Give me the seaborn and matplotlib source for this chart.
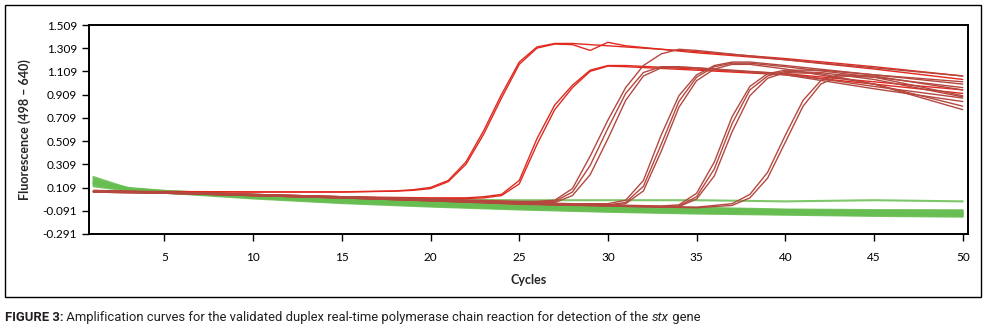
import numpy as np
import pandas as pd
import seaborn as sns
import matplotlib.pyplot as plt
from matplotlib.patches import Rectangle

# --- red amplification curves (cycle knots + fluorescence) ---
grp_a_cycles = [1, 5, 10, 15, 18, 19, 20, 21, 22, 23, 24, 25, 26, 27, 28, 29, 30, 31, 35, 40, 45, 50]
grp_a_runs = [
    [0.075, 0.075, 0.072, 0.072, 0.08, 0.09, 0.11, 0.17, 0.33, 0.6, 0.91, 1.19, 1.32, 1.35, 1.35, 1.34, 1.33, 1.32, 1.28, 1.22, 1.15, 1.07],
    [0.07, 0.072, 0.07, 0.07, 0.078, 0.085, 0.1, 0.16, 0.31, 0.57, 0.88, 1.17, 1.31, 1.345, 1.34, 1.29, 1.36, 1.33, 1.27, 1.21, 1.13, 1.04],
]

grp_b_cycles = [1, 5, 10, 15, 20, 22, 23, 24, 25, 26, 27, 28, 29, 30, 31, 35, 40, 45, 50]
grp_b_runs = [
    [0.08, 0.07, 0.05, 0.03, 0.02, 0.02, 0.03, 0.05, 0.17, 0.53, 0.82, 0.99, 1.12, 1.16, 1.16, 1.13, 1.09, 1.02, 0.95],
    [0.075, 0.068, 0.045, 0.025, 0.015, 0.015, 0.02, 0.04, 0.14, 0.48, 0.78, 0.97, 1.11, 1.155, 1.15, 1.12, 1.08, 1.0, 0.92],
]

grp_c_cycles = [1, 5, 10, 15, 20, 25, 26, 27, 28, 29, 30, 31, 32, 33, 34, 35, 40, 45, 50]
grp_c_runs = [
    [0.085, 0.07, 0.05, 0.03, 0.01, -0.01, -0.01, 0.0, 0.1, 0.38, 0.69, 0.97, 1.16, 1.26, 1.3, 1.29, 1.21, 1.14, 1.07],
    [0.08, 0.068, 0.045, 0.025, 0.005, -0.015, -0.015, -0.01, 0.07, 0.3, 0.62, 0.92, 1.1, 1.15, 1.15, 1.14, 1.09, 0.98, 0.88],
    [0.075, 0.065, 0.04, 0.02, 0.0, -0.02, -0.025, -0.02, 0.04, 0.22, 0.53, 0.86, 1.07, 1.14, 1.145, 1.14, 1.08, 0.96, 0.85],
]

grp_d_cycles = [1, 5, 10, 15, 20, 25, 28, 30, 31, 32, 33, 34, 35, 36, 37, 38, 40, 45, 50]
grp_d_runs = [
    [0.08, 0.07, 0.05, 0.03, 0.01, -0.02, -0.03, -0.03, 0.0, 0.17, 0.56, 0.9, 1.08, 1.16, 1.19, 1.19, 1.16, 1.08, 1.0],
    [0.075, 0.065, 0.045, 0.025, 0.0, -0.03, -0.04, -0.04, -0.02, 0.12, 0.48, 0.85, 1.06, 1.15, 1.18, 1.18, 1.15, 1.06, 0.97],
    [0.07, 0.06, 0.04, 0.02, -0.005, -0.035, -0.045, -0.045, -0.03, 0.08, 0.42, 0.8, 1.03, 1.13, 1.17, 1.17, 1.13, 1.0, 0.81],
]

grp_e_cycles = [1, 5, 10, 15, 20, 25, 30, 33, 34, 35, 36, 37, 38, 39, 40, 42, 45, 50]
grp_e_runs = [
    [0.08, 0.07, 0.05, 0.03, 0.005, -0.02, -0.04, -0.05, -0.04, 0.06, 0.33, 0.72, 0.98, 1.09, 1.12, 1.12, 1.08, 1.02],
    [0.075, 0.065, 0.045, 0.025, 0.0, -0.025, -0.045, -0.055, -0.05, 0.03, 0.27, 0.66, 0.95, 1.07, 1.11, 1.1, 1.04, 0.89],
    [0.07, 0.06, 0.04, 0.02, -0.005, -0.03, -0.05, -0.06, -0.055, 0.01, 0.21, 0.59, 0.9, 1.05, 1.1, 1.09, 1.0, 0.78],
]

grp_f_cycles = [1, 5, 10, 15, 20, 25, 30, 35, 37, 38, 39, 40, 41, 42, 43, 45, 50]
grp_f_runs = [
    [0.075, 0.065, 0.045, 0.025, 0.0, -0.025, -0.045, -0.06, -0.03, 0.05, 0.24, 0.56, 0.86, 1.03, 1.08, 1.07, 0.95],
    [0.07, 0.06, 0.04, 0.02, -0.005, -0.03, -0.05, -0.065, -0.045, 0.02, 0.19, 0.5, 0.81, 1.0, 1.07, 1.06, 0.9],
]

# --- green (internal control) curves ---
green_cycles = [1, 2, 3, 5, 10, 15, 20, 25, 30, 35, 40, 45, 50]
green_runs = [
    [0.2, 0.15, 0.1, 0.075, 0.035, 0.0, -0.03, -0.055, -0.075, -0.09, -0.1, -0.105, -0.11],
    [0.19, 0.14, 0.105, 0.08, 0.045, 0.015, -0.01, -0.03, -0.05, -0.065, -0.08, -0.085, -0.088],
    [0.18, 0.13, 0.1, 0.075, 0.03, -0.005, -0.035, -0.06, -0.08, -0.095, -0.105, -0.115, -0.12],
    [0.17, 0.13, 0.095, 0.07, 0.02, -0.02, -0.05, -0.075, -0.095, -0.11, -0.12, -0.13, -0.135],
    [0.16, 0.12, 0.095, 0.07, 0.035, 0.005, -0.02, -0.045, -0.065, -0.08, -0.09, -0.095, -0.1],
    [0.15, 0.12, 0.09, 0.065, 0.015, -0.025, -0.055, -0.08, -0.1, -0.115, -0.125, -0.135, -0.142],
    [0.14, 0.11, 0.09, 0.065, 0.03, -0.005, -0.03, -0.055, -0.07, -0.09, -0.1, -0.11, -0.115],
    [0.13, 0.11, 0.09, 0.07, 0.04, 0.01, -0.015, -0.035, -0.055, -0.07, -0.085, -0.09, -0.09],
    [0.12, 0.1, 0.085, 0.065, 0.025, -0.01, -0.04, -0.065, -0.085, -0.1, -0.11, -0.12, -0.125],
    [0.15, 0.12, 0.1, 0.08, 0.045, 0.02, 0.005, 0.0, 0.0, 0.0, -0.01, 0.0, -0.01],
]

y_ticks = [-0.291, -0.091, 0.109, 0.309, 0.509, 0.709, 0.909, 1.109, 1.309, 1.509]
x_ticks = [5, 10, 15, 20, 25, 30, 35, 40, 45, 50]

# long-form table for seaborn
rows = []
groups = [("green", green_cycles, green_runs),
          ("A", grp_a_cycles, grp_a_runs), ("B", grp_b_cycles, grp_b_runs),
          ("C", grp_c_cycles, grp_c_runs), ("D", grp_d_cycles, grp_d_runs),
          ("E", grp_e_cycles, grp_e_runs), ("F", grp_f_cycles, grp_f_runs)]
for name, cyc, runs in groups:
    for i, vals in enumerate(runs):
        for c, v in zip(cyc, vals):
            rows.append({"group": name, "run": f"{name}{i}", "cycle": c, "fluor": v})
df = pd.DataFrame(rows)

sns.set_style("white")
plt.rcParams["font.family"] = ["Lato", "DejaVu Sans"]

fig = plt.figure(figsize=(9.86, 3.33), dpi=100)
ax = fig.add_axes([0.0903, 0.2973, 0.8915, 0.6276])

# green controls first, then red targets
sns.lineplot(data=df[df.group == "green"], x="cycle", y="fluor", units="run",
             estimator=None, color="#66bd50", lw=1.5, alpha=0.85, ax=ax, legend=False)
palette = {"A": "#e02a20", "B": "#e02a20", "C": "#b4483f", "D": "#b4483f",
           "E": "#b4483f", "F": "#b4483f"}
sns.lineplot(data=df[df.group != "green"], x="cycle", y="fluor", units="run",
             estimator=None, hue="group", palette=palette, lw=1.0, ax=ax, legend=False)

ax.set_xlim(0.75, 50.3)
ax.set_ylim(-0.291, 1.509)
ax.set_xticks(x_ticks)
ax.set_yticks(y_ticks)
ax.set_yticklabels([f"{t:.3f}" for t in y_ticks])
ax.tick_params(axis="both", direction="out", length=5, width=1, labelsize=8.5,
               bottom=True, left=True, colors="black")
ax.tick_params(axis="x", pad=8)
for s in ax.spines.values():
    s.set_color("black")
    s.set_linewidth(1.4)

ax.set_xlabel("Cycles", fontsize=9, fontweight="bold", labelpad=8)
ax.set_ylabel("Fluorescence (498 \u2013 640)", fontsize=9, fontweight="bold", labelpad=8)

# outer frame around the figure panel
fig.patches.append(Rectangle((0.005, 0.108), 0.99, 0.877, transform=fig.transFigure,
                             fill=False, edgecolor="black", lw=1.0))

# caption with mixed weights
cap_font = ["Roboto", "DejaVu Sans"]
renderer = fig.canvas.get_renderer()
x0 = 0.005
y0 = 0.035
pieces = [("FIGURE 3:", "bold", "normal"),
          (" Amplification curves for the validated duplex real-time polymerase chain reaction for detection of the ", "normal", "normal"),
          ("stx", "normal", "italic"),
          (" gene", "normal", "normal")]
for txt, w, st in pieces:
    t = fig.text(x0, y0, txt, fontsize=9.4, fontweight=w, fontstyle=st,
                 family=cap_font, color="#231f20")
    bb = t.get_window_extent(renderer=renderer)
    x0 += bb.width / fig.bbox.width

fig.savefig("out.png", dpi=100)
